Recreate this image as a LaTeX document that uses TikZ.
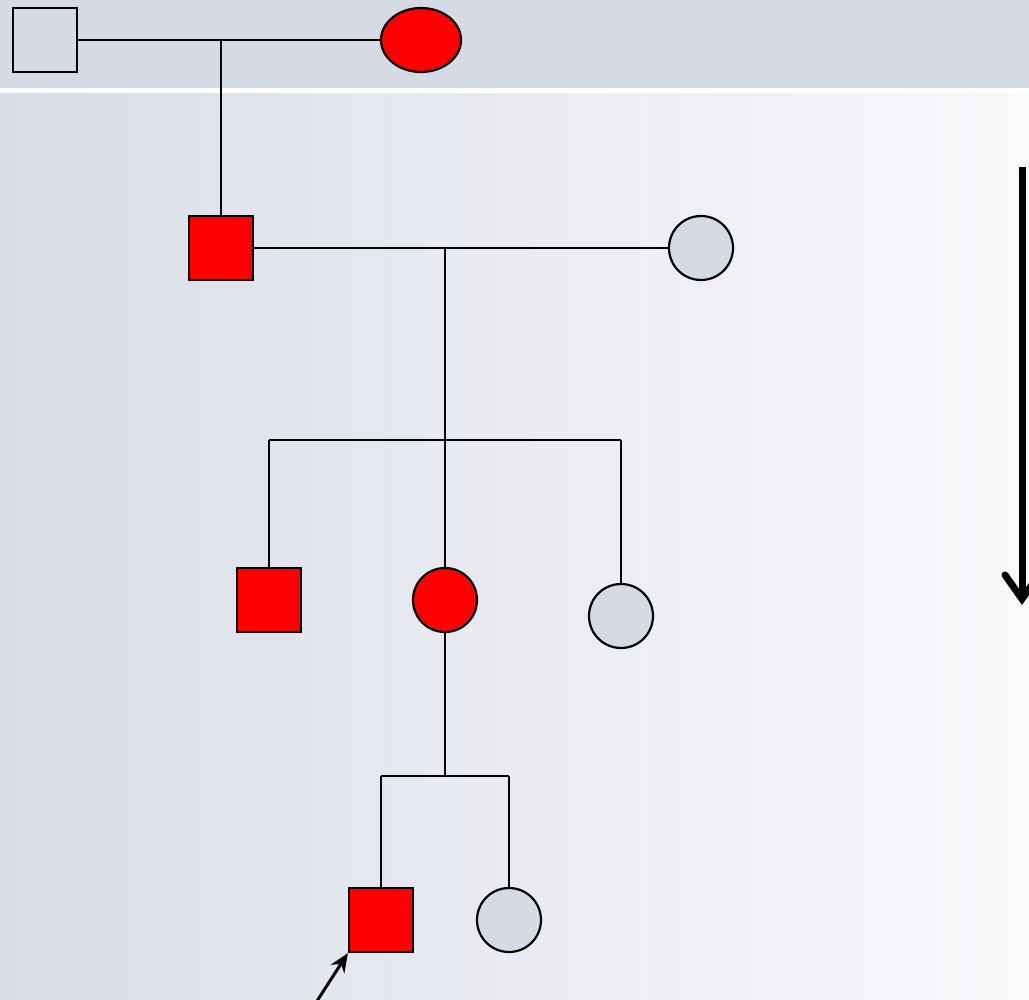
\documentclass[tikz,border=0pt]{standalone}
\usetikzlibrary{arrows.meta,calc,shapes.geometric}
\definecolor{bandc}{HTML}{D6DAE4}
\definecolor{gleft}{HTML}{DADDE7}
\definecolor{gright}{HTML}{F8F9FB}
\definecolor{redf}{HTML}{FF0000}
\begin{document}
\begin{tikzpicture}[x=1pt,y=-1pt,
  male/.style={draw=black,line width=2.2pt,minimum size=64pt,inner sep=0pt,shape=rectangle},
  female/.style={draw=black,line width=2.2pt,minimum size=64pt,inner sep=0pt,shape=circle},
  aff/.style={fill=redf},
  unaff/.style={fill=bandc},
  link/.style={line width=2.2pt,draw=black}]
\useasboundingbox (0,0) rectangle (1029,1000);
\shade[left color=gleft,right color=gright] (0,91) rectangle (1029,1000);
\fill[bandc] (0,0) rectangle (1029,88.5);
\fill[white] (0,88.5) rectangle (1029,93);
% generation I
\node[male,unaff] (m1) at (45,40) {};
\node[female,aff,shape=ellipse,minimum width=80pt,minimum height=64pt] (f1) at (421,40) {};
\coordinate (c1) at (221,40);
% generation II
\node[male,aff] (m2) at (221,248) {};
\node[female,unaff] (f2) at (701,248) {};
\coordinate (c2) at (445,248);
\coordinate (s2) at (445,440);
\coordinate (s2l) at (269,440);
\coordinate (s2r) at (621,440);
% generation III
\node[male,aff] (m3) at (269,600) {};
\node[female,aff] (f3) at (445,600) {};
\node[female,unaff] (f3b) at (621,616) {};
\coordinate (s3) at (445,776);
\coordinate (s3l) at (381,776);
\coordinate (s3r) at (509,776);
% generation IV
\node[male,aff] (m4) at (381,920) {};
\node[female,unaff] (f4) at (509,920) {};
\coordinate (pb) at (317,1001);
% connectors
\draw[link] (m1.east) -- (f1.west);
\draw[link] (c1) -- (m2.north);
\draw[link] (m2.east) -- (f2.west);
\draw[link] (c2) -- (f3.north);
\draw[link] (s2l) -- (s2r);
\draw[link] (s2l) -- (m3.north);
\draw[link] (s2r) -- (f3b.north);
\draw[link] (f3.south) -- (s3);
\draw[link] (s3l) -- (s3r);
\draw[link] (s3l) -- (m4.north);
\draw[link] (s3r) -- (f4.north);
\draw[line width=3pt,-{Stealth[length=19pt,width=16pt]}] (pb) -- (m4.south west);
% time arrow
\coordinate (ta) at (1022,167);
\coordinate (tb) at (1022,605);
\draw[line width=7pt,-{Straight Barb[length=24pt,width=34pt,line cap=round]}] (ta) -- (tb);
\end{tikzpicture}
\end{document}
